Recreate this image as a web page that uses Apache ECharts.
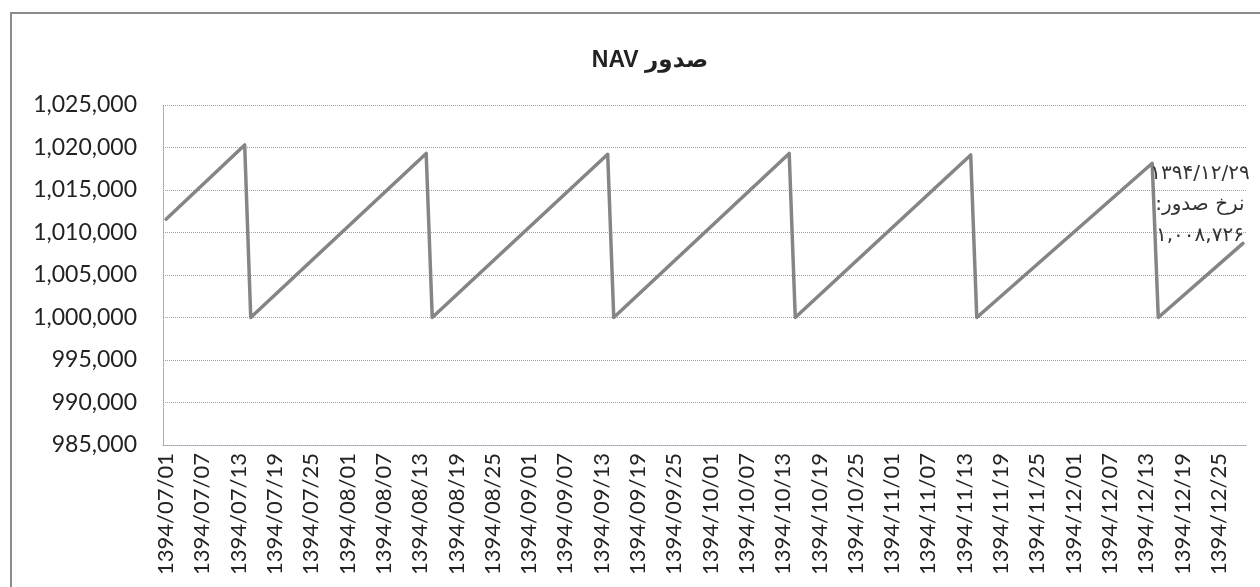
<!DOCTYPE html>
<html>
<head>
<meta charset="utf-8">
<script src="https://cdn.jsdelivr.net/npm/echarts@6/dist/echarts.min.js"></script>
<style>
html,body{margin:0;padding:0;background:#fff;}
#chart{width:1260px;height:587px;}
</style>
</head>
<body>
<div id="chart"></div>
<script>
// Persian calendar months shown (1394) and their lengths
const monthNumbers = ['07', '08', '09', '10', '11', '12'];
const monthDays = [30, 30, 30, 30, 30, 29];

// Key points (straight segments between them)
const keyDates = [
  '1394/07/01', '1394/07/14', '1394/07/15',
  '1394/08/14', '1394/08/15',
  '1394/09/14', '1394/09/15',
  '1394/10/14', '1394/10/15',
  '1394/11/14', '1394/11/15',
  '1394/12/14', '1394/12/15',
  '1394/12/29'
];
const keyValues = [
  1011570, 1020300, 1000000,
  1019300, 1000000,
  1019200, 1000000,
  1019300, 1000000,
  1019120, 1000000,
  1018140, 1000000,
  1008726
];

const yTicks = { min: 985000, max: 1025000, step: 5000 };
const titleText = 'NAV صدور';
const lastLabelLines = ['۱۳۹۴/۱۲/۲۹', ':نرخ صدور', '۱,۰۰۸,۷۲۶'];

// all daily categories
const categories = [];
monthNumbers.forEach((m, i) => {
  for (let d = 1; d <= monthDays[i]; d++) {
    categories.push('1394/' + m + '/' + (d < 10 ? '0' + d : '' + d));
  }
});

const seriesData = keyDates.map((d, i) => {
  const item = { value: [d, keyValues[i]] };
  if (i === keyDates.length - 1) {
    item.label = {
      show: true,
      position: [-42, -84],
      align: 'center',
      verticalAlign: 'top',
      formatter: lastLabelLines.join('\n'),
      fontFamily: "'DejaVu Sans', sans-serif",
      fontSize: 20,
      lineHeight: 31,
      color: '#333'
    };
  }
  return item;
});

const gridColor = '#98a0b0';
const chart = echarts.init(document.getElementById('chart'), null, { renderer: 'canvas' });
chart.setOption({
  animation: false,
  backgroundColor: '#fff',
  title: {
    text: titleText,
    left: 645,
    top: 44,
    textAlign: 'center',
    textStyle: {
      fontFamily: "'Liberation Sans', 'DejaVu Sans', sans-serif",
      fontWeight: 'bold',
      fontSize: 23,
      color: '#222'
    }
  },
  graphic: [{
    type: 'rect',
    shape: { x: 11, y: 13, width: 1300, height: 700 },
    style: { fill: 'none', stroke: '#8c8c8c', lineWidth: 2 },
    silent: true
  }],
  grid: { left: 163, right: 14, top: 105, bottom: 142, containLabel: false },
  xAxis: {
    type: 'category',
    data: categories,
    boundaryGap: true,
    axisLine: { show: true, lineStyle: { color: gridColor, type: 'dotted', width: 1 } },
    axisTick: { show: false },
    axisLabel: {
      interval: 5,
      rotate: 90,
      margin: 8,
      fontFamily: 'Lato, sans-serif',
      fontSize: 22,
      color: '#222'
    },
    splitLine: { show: false }
  },
  yAxis: {
    type: 'value',
    min: yTicks.min,
    max: yTicks.max,
    interval: yTicks.step,
    axisLine: { show: true, lineStyle: { color: gridColor, type: 'dotted', width: 1 } },
    axisTick: { show: false },
    axisLabel: {
      margin: 26,
      fontFamily: 'Lato, sans-serif',
      fontSize: 23,
      color: '#222',
      formatter: v => v.toLocaleString('en-US')
    },
    splitLine: { show: true, lineStyle: { color: gridColor, type: 'dotted', width: 1 } }
  },
  series: [{
    type: 'line',
    data: seriesData,
    showSymbol: true,
    symbol: 'circle',
    symbolSize: 2,
    itemStyle: { color: '#858585' },
    lineStyle: { color: '#858585', width: 3.5, join: 'round', cap: 'round' },
    z: 3
  }]
});
</script>
</body>
</html>
